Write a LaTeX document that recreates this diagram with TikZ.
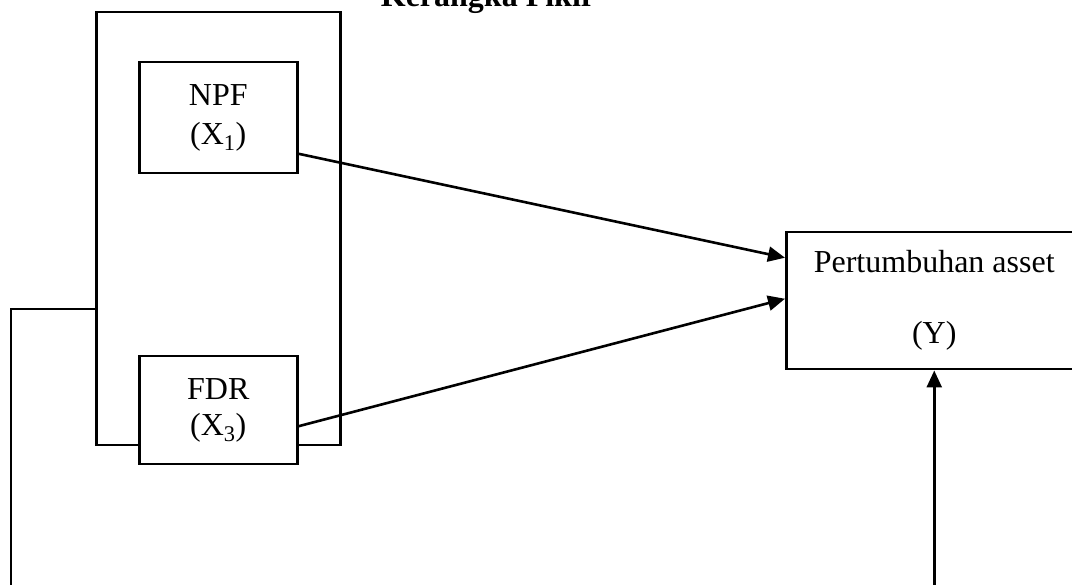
\documentclass[tikz,border=0pt]{standalone}
\usepackage{fontspec}
\setmainfont{Liberation Serif}
\usetikzlibrary{arrows.meta,calc}
\begin{document}
\begin{tikzpicture}[x=1pt,y=-1pt,
  every node/.style={font=\fontsize{32}{40}\selectfont},
  box/.style={draw,line width=2.5pt,fill=white,rectangle,inner sep=0pt,align=center},
  conn/.style={line width=2.6pt},
  arr/.style={conn,-{Triangle[length=17pt,width=15pt]}}]
\useasboundingbox (0,0) rectangle (1072,585);
\clip (0,0) rectangle (1072,585);
% outer group box
\node[box,fill=none,minimum width=244pt,minimum height=433pt,anchor=north west] (grp) at (95,11) {};
% inner boxes
\node[box,minimum width=158pt,minimum height=111pt,anchor=north west] (npf) at (138,61) {NPF\\[-1pt](X\textsubscript{1})};
\node[box,minimum width=158pt,minimum height=108pt,anchor=north west] (fdr) at (138,355) {FDR\\[-4pt](X\textsubscript{3})};
\node[box,minimum width=296pt,minimum height=137pt,anchor=north west] (y) at (785,231) {Pertumbuhan asset\\[31pt](Y)};
% title
\node[font=\fontsize{32}{40}\selectfont\bfseries,anchor=base] (title) at (488,7) {Kerangka Pikir};
% arrows
\draw[arr] ([yshift=-36pt]npf.east) -- ([yshift=43pt]y.west);
\draw[arr] ([yshift=-16pt]fdr.east) -- ([yshift=2pt]y.west);
% left connector
\coordinate (lc) at (11,309);
\coordinate (lb) at (11,600);
\draw[conn] (grp.west |- lc) -- (lc) -- (lb);
% bottom connector to Y
\coordinate (rb) at (y.south |- lb);
\draw[arr] (rb) -- (y.south);
\end{tikzpicture}
\end{document}
